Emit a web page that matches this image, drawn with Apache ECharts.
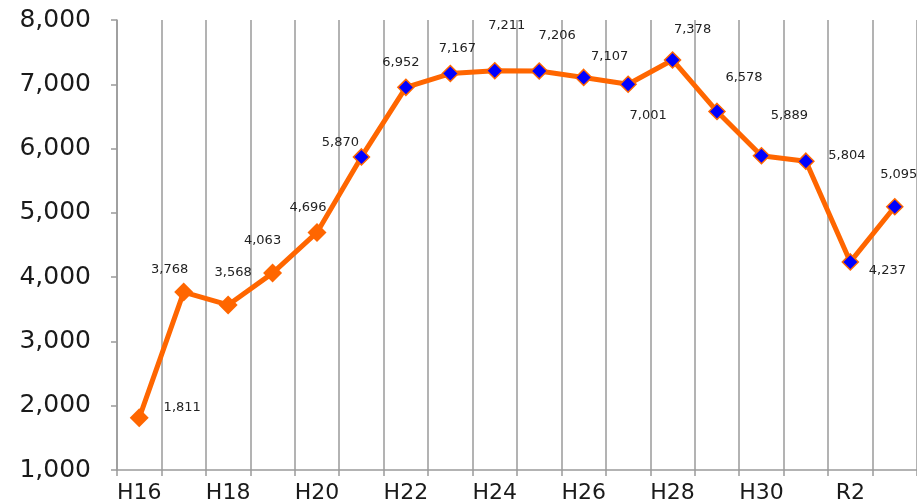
<!DOCTYPE html>
<html><head><meta charset="utf-8">
<script src="https://cdn.jsdelivr.net/npm/echarts@6/dist/echarts.min.js"></script>
<style>html,body{margin:0;padding:0;background:#fff}#c{width:917px;height:504px}</style>
</head><body><div id="c"></div>
<script>
const categories = ['H16','H17','H18','H19','H20','H21','H22','H23','H24','H25','H26','H27','H28','H29','H30','H31','R2','R3'];
const values = [1811,3768,3568,4063,4696,5870,6952,7167,7211,7206,7107,7001,7378,6578,5889,5804,4237,5095];
const yTicks = {min:1000, max:8000, interval:1000};
// label offsets (px) relative to each point centre
const labelOffsets = [[43,-10],[-14,-22],[5,-32],[-10,-32],[-9,-25],[-21,-14],[-5,-25],[7,-25],[12,-45],[18,-35],[26,-21],[20,31],[20,-30],[27,-34],[28,-40],[41,-6],[37,9],[4,-32]];
const orangeCount = 5;

const chart = echarts.init(document.getElementById('c'));
const fontFam = '"DejaVu Sans", sans-serif';
chart.setOption({
  animation:false,
  grid:{left:117, right:0, top:20, bottom:34, containLabel:false},
  xAxis:{
    type:'category', data:categories, boundaryGap:true,
    axisLine:{lineStyle:{color:'#9a9a9a', width:1.5}},
    axisTick:{show:true, interval:0, length:6, lineStyle:{color:'#9a9a9a', width:1.5}},
    axisLabel:{interval:1, color:'#1a1a1a', fontSize:22, fontFamily:fontFam, margin:12},
    splitLine:{show:true, interval:0, lineStyle:{color:'#9a9a9a', width:1.5}}
  },
  yAxis:{
    type:'value', min:yTicks.min, max:yTicks.max, interval:yTicks.interval,
    axisLine:{show:true, lineStyle:{color:'#9a9a9a', width:1.5}},
    axisTick:{show:true, length:6, lineStyle:{color:'#9a9a9a', width:1.5}},
    axisLabel:{color:'#1a1a1a', fontSize:25, fontFamily:fontFam, margin:26,
      formatter:v=>v.toLocaleString('en-US')},
    splitLine:{show:false}
  },
  series:[{
    type:'line',
    data:values.map((v,i)=>({
      value:v,
      symbol:'diamond',
      symbolSize: i<orangeCount ? 19 : 16,
      itemStyle: i<orangeCount ? {color:'#ff6600', borderColor:'#ff6600', borderWidth:0}
                                : {color:'#0000ff', borderColor:'#ff6600', borderWidth:1.5},
      label:{offset:labelOffsets[i]}
    })),
    lineStyle:{color:'#ff6600', width:5},
    label:{show:true, position:'inside', align:'center', verticalAlign:'middle',
      color:'#222', fontSize:13, fontFamily:fontFam,
      formatter:p=>p.value.toLocaleString('en-US')},
    z:3
  }]
});
</script></body></html>
